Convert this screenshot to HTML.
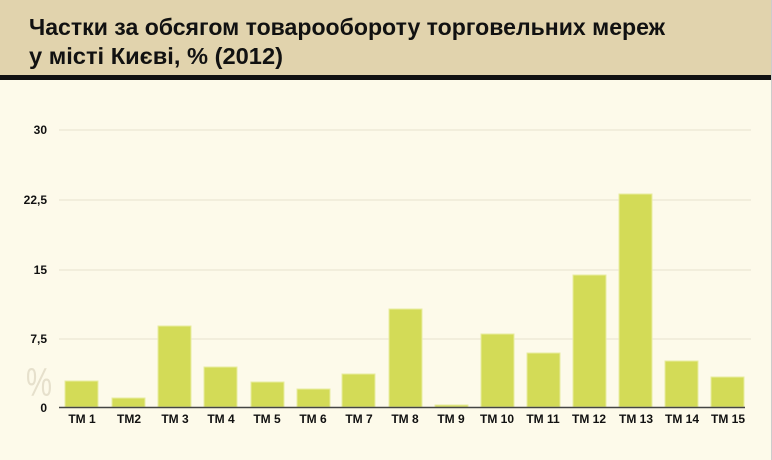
<!DOCTYPE html>
<html><head><meta charset="utf-8"><style>
body{margin:0;width:772px;height:460px;background:#fdfaea;overflow:hidden;font-family:"Liberation Sans","DejaVu Sans",sans-serif}
</style></head><body>
<svg width="772" height="460" xmlns="http://www.w3.org/2000/svg" style="position:absolute;left:0;top:0">
<rect x="0" y="0" width="772" height="460" fill="#fdfaea"/>
<rect x="0" y="0" width="772" height="76" fill="#e1d3ad"/>
<rect x="0" y="75" width="772" height="5" fill="#111"/>
<rect x="771" y="0" width="1" height="460" fill="#ccc"/>
<text x="29" y="35" font-size="23" font-weight="bold" fill="#111" textLength="636" lengthAdjust="spacingAndGlyphs">Частки за обсягом товарообороту торговельних мереж</text>
<text x="29" y="64" font-size="23" font-weight="bold" fill="#111" textLength="254" lengthAdjust="spacingAndGlyphs">у місті Києві, % (2012)</text>
<g stroke="#ebe6d4" stroke-width="1.2">
<line x1="59" y1="130" x2="751" y2="130"/><line x1="59" y1="200" x2="751" y2="200"/>
<line x1="59" y1="270" x2="751" y2="270"/><line x1="59" y1="339" x2="751" y2="339"/>
</g>
<g font-size="12" font-weight="bold" fill="#111" text-anchor="end">
<text x="47" y="134">30</text><text x="47" y="204">22,5</text><text x="47" y="274">15</text><text x="47" y="343">7,5</text><text x="47" y="412">0</text>
</g>
<text x="26" y="396" font-size="40" fill="#e6e0cc" textLength="26" lengthAdjust="spacingAndGlyphs">%</text>
<g fill="#d3db57" stroke="#e8eca0" stroke-width="1">
<rect x="65" y="381" width="33" height="26"/>
<rect x="112" y="398" width="33" height="9"/>
<rect x="158" y="326" width="33" height="81"/>
<rect x="204" y="367" width="33" height="40"/>
<rect x="251" y="382" width="33" height="25"/>
<rect x="297" y="389" width="33" height="18"/>
<rect x="342" y="374" width="33" height="33"/>
<rect x="389" y="309" width="33" height="98"/>
<rect x="435" y="405" width="33" height="2"/>
<rect x="481" y="334" width="33" height="73"/>
<rect x="527" y="353" width="33" height="54"/>
<rect x="573" y="275" width="33" height="132"/>
<rect x="619" y="194" width="33" height="213"/>
<rect x="665" y="361" width="33" height="46"/>
<rect x="711" y="377" width="33" height="30"/>
</g>
<line x1="59" y1="407.5" x2="745" y2="407.5" stroke="#444" stroke-width="1.5"/>
<g font-size="12" font-weight="bold" fill="#111" text-anchor="middle">
<text x="82" y="423">ТМ 1</text><text x="129" y="423">ТМ2</text><text x="175" y="423">ТМ 3</text>
<text x="221" y="423">ТМ 4</text><text x="267" y="423">ТМ 5</text><text x="313" y="423">ТМ 6</text>
<text x="359" y="423">ТМ 7</text><text x="405" y="423">ТМ 8</text><text x="451" y="423">ТМ 9</text>
<text x="497" y="423">ТМ 10</text><text x="543" y="423">ТМ 11</text><text x="589" y="423">ТМ 12</text>
<text x="636" y="423">ТМ 13</text><text x="682" y="423">ТМ 14</text><text x="728" y="423">ТМ 15</text>
</g>
</svg>
</body></html>
